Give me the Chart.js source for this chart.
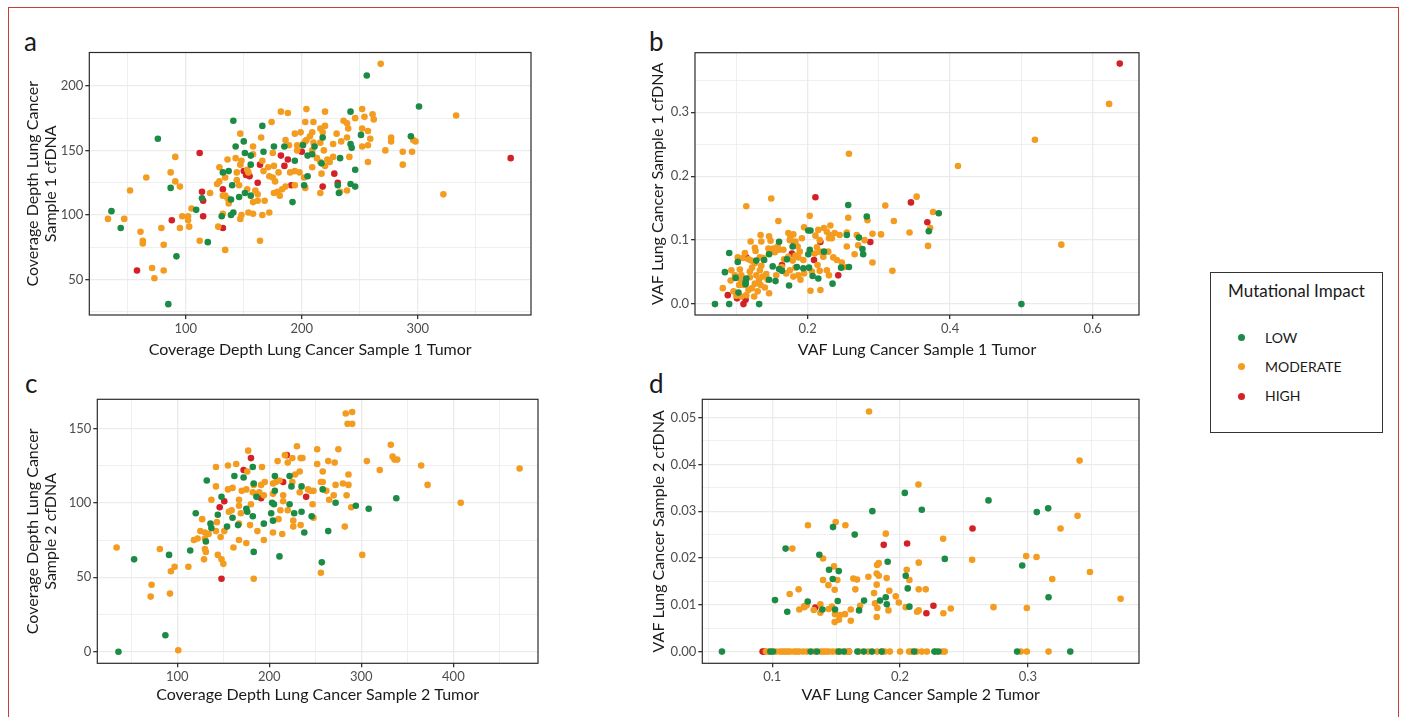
<!DOCTYPE html>
<html>
<head>
<meta charset="utf-8">
<script src="https://cdn.jsdelivr.net/npm/chart.js@4.4.1/dist/chart.umd.min.js"></script>
<style>
  body { margin: 0; background: #fff; width: 1404px; height: 717px; overflow: hidden; position: relative; font-family: Lato, "Open Sans", sans-serif; }
  .frame { position: absolute; left: 8px; top: 7px; width: 1389px; height: 730px; border: 1px solid #d23a3a; }
  canvas { position: absolute; }
  .tag { position: absolute; font-size: 26px; line-height: 1; color: #1a1a1a; }
  #legend { position: absolute; left: 1210px; top: 272px; width: 171px; height: 159px; border: 1px solid #333; }
  #legend .ttl { position: absolute; left: 0; width: 100%; top: 8px; line-height: 20px; text-align: center; font-size: 17px; color: #1a1a1a; }
  #legend .row { position: absolute; left: 0; width: 100%; height: 20px; line-height: 20px; font-size: 14px; color: #1a1a1a; }
  #legend .dot { position: absolute; left: 27px; top: 6.5px; width: 7px; height: 7px; border-radius: 50%; }
  #legend .lab { position: absolute; left: 54px; top: 0; }
</style>
</head>
<body>
<div class="frame"></div>
<div class="tag" style="left:24px;top:28px">a</div>
<div class="tag" style="left:649px;top:28px">b</div>
<div class="tag" style="left:25px;top:370px">c</div>
<div class="tag" style="left:649px;top:370px">d</div>
<canvas id="panelA" width="520" height="330" style="left:20px;top:40px"></canvas>
<canvas id="panelB" width="510" height="330" style="left:640px;top:40px"></canvas>
<canvas id="panelC" width="530" height="330" style="left:20px;top:385px"></canvas>
<canvas id="panelD" width="510" height="330" style="left:640px;top:385px"></canvas>
<div id="legend"><div class="ttl">Mutational Impact</div></div>
<script>
var fontFamily = 'Lato, "Open Sans", sans-serif';
var impactLevels = ['LOW', 'MODERATE', 'HIGH'];
var impactColors = ['#1c8b45', '#f39c1f', '#d42027'];

// panel a - coverage depth, sample 1
var aLow = [[256,208],[301,184],[141,173],[166,169],[242,180],[218,160],[251,162],[294,161],[76,159],[150,157],[143,153],[176,153],[185,153],[201,154],[211,153],[242,155],[243,152],[151,148],[167,149],[156,146],[194,142],[205,146],[209,147],[233,144],[217,140],[246,135],[132,133],[137,134],[205,130],[156,139],[87,121],[140,123],[202,123],[231,123],[242,124],[246,122],[232,117],[151,117],[156,115],[114,113],[139,112],[146,114],[192,110],[36,103],[44,90],[109,104],[131,99],[139,100],[141,102],[119,79],[92,68],[85,31]];
var aModerate = [[268,217],[204,182],[182,180],[188,179],[220,180],[252,182],[333,177],[254,176],[261,178],[262,174],[246,175],[236,173],[239,171],[240,167],[203,172],[210,172],[220,169],[216,167],[218,164],[174,172],[252,167],[257,165],[147,163],[165,160],[194,163],[199,164],[209,164],[207,161],[204,158],[203,157],[230,163],[234,157],[239,160],[227,155],[259,159],[277,160],[277,157],[296,158],[298,157],[186,158],[189,154],[196,154],[201,155],[210,156],[216,156],[158,153],[175,148],[252,153],[257,154],[272,150],[287,149],[295,149],[219,150],[209,150],[196,150],[91,145],[158,147],[143,144],[136,143],[148,142],[166,142],[213,144],[222,143],[227,145],[224,141],[220,138],[216,141],[241,145],[257,141],[287,139],[171,137],[176,138],[167,134],[129,137],[147,139],[153,135],[144,133],[154,133],[87,133],[66,129],[180,133],[190,133],[194,134],[198,133],[172,130],[175,129],[177,126],[209,137],[217,132],[202,129],[91,126],[95,122],[127,124],[129,126],[134,129],[144,127],[146,123],[153,120],[160,119],[162,116],[179,118],[183,120],[186,122],[181,115],[176,117],[194,123],[203,121],[216,117],[233,118],[239,119],[322,116],[52,119],[121,117],[134,115],[136,113],[137,109],[158,110],[162,111],[168,111],[132,115],[33,97],[47,97],[105,105],[97,99],[102,99],[102,96],[103,91],[95,90],[79,90],[132,101],[148,100],[147,97],[154,102],[158,101],[166,100],[172,102],[128,91],[61,87],[63,80],[63,78],[81,77],[112,80],[164,80],[134,73],[71,59],[81,57],[73,51]];
var aHigh = [[112,148],[200,149],[182,146],[188,143],[164,139],[185,138],[150,134],[155,130],[152,131],[228,132],[162,125],[191,123],[218,122],[231,125],[114,118],[115,111],[132,120],[88,96],[115,99],[132,90],[58,57],[380,144]];
var aXGrid = [50,100,150,200,250,300,350];
var aXLabels = [100,200,300];
var aYGrid = [25,50,75,100,125,150,175,200];
var aYLabels = [50,100,150,200];

// panel b - VAF, sample 1
var bLow = [[0.500,0],[0.257,0.155],[0.384,0.142],[0.370,0.114],[0.283,0.137],[0.160,0.0975],[0.090,0.080],[0.102,0.066],[0.084,0.050],[0.099,0.041],[0.103,0.018],[0.113,0.031],[0.114,0.040],[0.070,0],[0.090,0],[0.132,0],[0.113,0.034],[0.128,0.068],[0.139,0.069],[0.146,0.078],[0.146,0.038],[0.155,0.036],[0.151,0.059],[0.160,0.055],[0.171,0.070],[0.164,0.052],[0.174,0.029],[0.179,0.090],[0.185,0.058],[0.194,0.056],[0.202,0.057],[0.201,0.078],[0.203,0.085],[0.201,0.115],[0.204,0.115],[0.223,0.082],[0.207,0.044],[0.215,0.040],[0.235,0.032],[0.247,0.057],[0.258,0.058],[0.255,0.108],[0.272,0.104],[0.277,0.086],[0.278,0.078]];
var bModerate = [[0.623,0.313],[0.519,0.257],[0.258,0.235],[0.411,0.216],[0.556,0.093],[0.353,0.168],[0.309,0.154],[0.149,0.165],[0.114,0.153],[0.376,0.144],[0.372,0.119],[0.369,0.091],[0.343,0.112],[0.321,0.130],[0.303,0.109],[0.291,0.110],[0.291,0.065],[0.319,0.052],[0.284,0.131],[0.203,0.138],[0.159,0.130],[0.257,0.135],[0.195,0.120],[0.232,0.123],[0.215,0.116],[0.223,0.119],[0.227,0.113],[0.231,0.108],[0.234,0.103],[0.211,0.107],[0.217,0.100],[0.173,0.111],[0.180,0.109],[0.176,0.105],[0.175,0.100],[0.183,0.098],[0.192,0.103],[0.134,0.108],[0.120,0.098],[0.135,0.098],[0.146,0.106],[0.148,0.099],[0.158,0.090],[0.152,0.087],[0.154,0.081],[0.145,0.087],[0.146,0.079],[0.138,0.072],[0.112,0.080],[0.126,0.088],[0.127,0.083],[0.117,0.070],[0.102,0.073],[0.109,0.072],[0.093,0.053],[0.098,0.045],[0.092,0.037],[0.081,0.025],[0.105,0.054],[0.107,0.045],[0.106,0.038],[0.110,0.030],[0.104,0.030],[0.119,0.051],[0.122,0.057],[0.119,0.042],[0.126,0.032],[0.122,0.025],[0.132,0.038],[0.128,0.045],[0.133,0.053],[0.126,0.064],[0.121,0.068],[0.133,0.073],[0.135,0.060],[0.142,0.047],[0.144,0.038],[0.146,0.017],[0.140,0.026],[0.137,0.043],[0.134,0.030],[0.117,0.022],[0.114,0.014],[0.160,0.085],[0.166,0.085],[0.167,0.070],[0.173,0.074],[0.179,0.068],[0.183,0.076],[0.164,0.058],[0.156,0.045],[0.170,0.048],[0.175,0.053],[0.180,0.043],[0.187,0.045],[0.183,0.057],[0.190,0.038],[0.195,0.048],[0.186,0.090],[0.189,0.082],[0.187,0.073],[0.194,0.069],[0.210,0.079],[0.213,0.089],[0.217,0.082],[0.222,0.074],[0.229,0.082],[0.236,0.073],[0.241,0.069],[0.248,0.065],[0.252,0.058],[0.214,0.061],[0.206,0.051],[0.217,0.052],[0.227,0.053],[0.230,0.045],[0.204,0.021],[0.218,0.022],[0.230,0.103],[0.238,0.111],[0.245,0.108],[0.255,0.090],[0.255,0.112],[0.266,0.078],[0.271,0.092],[0.280,0.100],[0.269,0.108],[0.096,0.020],[0.100,0.013],[0.107,0.012],[0.125,0.012],[0.130,0.020]];
var bHigh = [[0.638,0.376],[0.345,0.159],[0.211,0.167],[0.368,0.128],[0.288,0.097],[0.218,0.097],[0.114,0.073],[0.088,0.014],[0.101,0.009],[0.110,0.000],[0.113,0.007],[0.178,0.079],[0.181,0.092],[0.164,0.061],[0.209,0.069],[0.243,0.045]];
var bXGrid = [0.1,0.2,0.3,0.4,0.5,0.6];
var bXLabels = [0.2,0.4,0.6];
var bYGrid = [0,0.05,0.1,0.15,0.2,0.25,0.3,0.35];
var bYLabels = [0,0.1,0.2,0.3];

// panel c - coverage depth, sample 2
var cLow = [[36,0],[87,11],[53,62],[91,65],[114,68],[132,115],[120,93],[144,92],[148,104],[136,86],[137,83],[154,84],[160,90],[166,85],[162,118],[172,117],[182,124],[183,113],[175,96],[176,94],[182,91],[186,104],[194,86],[131,74],[183,67],[206,118],[206,108],[203,100],[205,99],[202,93],[204,88],[211,64],[222,99],[222,118],[224,111],[227,93],[235,94],[235,111],[238,80],[246,91],[258,109],[272,100],[264,81],[257,60],[294,98],[308,96],[338,103]];
var cModerate = [[34,70],[72,45],[71,37],[92,39],[81,69],[93,54],[97,57],[101,1],[112,57],[118,75],[122,76],[125,81],[130,80],[134,79],[130,76],[130,69],[131,67],[129,62],[127,89],[137,102],[142,111],[142,124],[143,87],[142,81],[147,77],[144,65],[148,62],[150,59],[151,81],[155,109],[160,110],[155,125],[164,126],[156,94],[159,95],[167,102],[167,98],[169,93],[167,86],[161,70],[167,75],[175,73],[170,108],[175,109],[176,121],[177,135],[180,99],[179,85],[182,107],[189,107],[194,105],[183,112],[191,112],[195,114],[192,124],[187,81],[194,75],[183,49],[204,113],[207,114],[211,115],[209,128],[204,106],[215,105],[215,101],[212,95],[210,89],[204,80],[214,79],[217,132],[220,127],[225,130],[225,114],[230,138],[233,121],[233,107],[234,130],[236,130],[226,88],[226,84],[234,85],[242,109],[245,108],[248,108],[247,99],[248,90],[252,136],[252,126],[258,121],[258,114],[256,114],[262,108],[264,128],[271,127],[275,136],[270,105],[265,102],[272,112],[280,113],[286,119],[286,112],[284,105],[289,97],[282,84],[301,65],[256,53],[283,160],[290,161],[285,153],[290,153],[306,128],[320,122],[332,139],[334,131],[336,129],[339,129],[365,125],[372,112],[408,100],[472,123],[220,95],[228,119]];
var cHigh = [[180,130],[172,122],[219,132],[215,114],[191,103],[151,101],[146,97],[148,49],[240,104]];
var cXGrid = [50,100,150,200,250,300,350,400,450];
var cXLabels = [100,200,300,400];
var cYGrid = [0,25,50,75,100,125,150];
var cYLabels = [0,50,100,150];

// panel d - VAF, sample 2
var dLow = [[0.2037,0.0339],[0.1783,0.0300],[0.2170,0.0303],[0.2692,0.0323],[0.3070,0.0298],[0.3159,0.0306],[0.1475,0.0266],[0.1645,0.0250],[0.1104,0.0220],[0.1368,0.0207],[0.1444,0.0175],[0.1520,0.0172],[0.1473,0.0155],[0.1903,0.0192],[0.2350,0.0198],[0.2044,0.0162],[0.2060,0.0135],[0.2956,0.0184],[0.3162,0.0116],[0.1021,0.0110],[0.1117,0.0085],[0.1277,0.0107],[0.1392,0.0090],[0.1491,0.0090],[0.1512,0.0108],[0.1718,0.0109],[0.1679,0.0088],[0.1843,0.0109],[0.1888,0.0116],[0.1896,0.0101],[0.2073,0.0096],[0.0606,0],[0.0985,0],[0.1005,0],[0.1300,0],[0.1350,0],[0.1520,0],[0.1560,0],[0.1666,0],[0.1716,0],[0.1780,0],[0.1856,0],[0.2110,0],[0.2269,0],[0.2300,0],[0.2916,0],[0.3332,0]];
var dModerate = [[0.1757,0.0513],[0.3405,0.0408],[0.2144,0.0357],[0.3389,0.0290],[0.3256,0.0263],[0.1279,0.0270],[0.1496,0.0277],[0.1572,0.0270],[0.1888,0.0252],[0.2337,0.0241],[0.1157,0.0220],[0.1397,0.0199],[0.1483,0.0182],[0.2146,0.0190],[0.2564,0.0196],[0.2987,0.0204],[0.3068,0.0202],[0.3486,0.0170],[0.3191,0.0155],[0.3726,0.0113],[0.2731,0.0095],[0.2992,0.0093],[0.1397,0.0153],[0.1509,0.0153],[0.1439,0.0142],[0.1634,0.0156],[0.1663,0.0154],[0.1650,0.0133],[0.1488,0.0132],[0.1206,0.0133],[0.1136,0.0123],[0.1752,0.0160],[0.1820,0.0185],[0.1833,0.0189],[0.1817,0.0167],[0.1833,0.0162],[0.1817,0.0143],[0.1895,0.0157],[0.1796,0.0125],[0.1916,0.0130],[0.2052,0.0175],[0.2073,0.0153],[0.2146,0.0133],[0.2201,0.0133],[0.1966,0.0118],[0.1990,0.0105],[0.2044,0.0095],[0.2133,0.0085],[0.2146,0.0088],[0.2339,0.0082],[0.2397,0.0092],[0.1822,0.0093],[0.1817,0.0074],[0.1909,0.0088],[0.1211,0.0090],[0.1248,0.0095],[0.1269,0.0099],[0.1324,0.0089],[0.1376,0.0101],[0.1376,0.0083],[0.1441,0.0091],[0.1467,0.0096],[0.1491,0.0080],[0.1530,0.0078],[0.1569,0.0080],[0.1488,0.0063],[0.1522,0.0068],[0.1614,0.0090],[0.1614,0.0066],[0.1687,0.0098],[0.1804,0.0103],[0.095,0],[0.097,0],[0.103,0],[0.106,0],[0.108,0],[0.110,0],[0.112,0],[0.114,0],[0.117,0],[0.119,0],[0.121,0],[0.124,0],[0.127,0],[0.133,0],[0.138,0],[0.140,0],[0.142,0],[0.144,0],[0.147,0],[0.150,0],[0.153,0],[0.158,0],[0.160,0],[0.168,0],[0.175,0],[0.182,0],[0.186,0],[0.188,0],[0.192,0],[0.200,0],[0.207,0],[0.209,0],[0.213,0],[0.217,0],[0.221,0],[0.228,0],[0.233,0],[0.235,0],[0.2945,0],[0.2992,0],[0.3162,0]];
var dHigh = [[0.2567,0.0263],[0.1872,0.0228],[0.2055,0.0231],[0.2261,0.0098],[0.2206,0.0082],[0.1337,0.0094],[0.1251,0.0096],[0.0924,0],[0.0935,0],[0.1600,0]];
var dXGrid = [0.05,0.1,0.15,0.2,0.25,0.3,0.35];
var dXLabels = [0.1,0.2,0.3];
var dYGrid = [0,0.005,0.01,0.015,0.02,0.025,0.03,0.035,0.04,0.045,0.05];
var dYLabels = [0,0.01,0.02,0.03,0.04,0.05];

// black frame round the plotting area
var panelBox = {
  id: 'panelBox',
  afterDraw: function(chart) {
    var a = chart.chartArea, ctx = chart.ctx;
    ctx.save();
    ctx.strokeStyle = '#2b2b2b';
    ctx.lineWidth = 1.2;
    ctx.strokeRect(a.left, a.top, a.right - a.left, a.bottom - a.top);
    ctx.restore();
  }
};

function axis(min, max, grid, labels, digits, title, titlePad, size, isX) {
  return {
    type: 'linear',
    min: min,
    max: max,
    afterBuildTicks: function(s) { s.ticks = grid.map(function(v) { return {value: v}; }); },
    afterFit: function(s) { if (isX) s.height = size; else s.width = size; },
    border: {display: false},
    grid: {
      color: '#ebebeb',
      lineWidth: function(c) { return c.tick && labels.indexOf(c.tick.value) >= 0 ? 1.3 : 0.8; },
      tickLength: 4,
      tickColor: function(c) { return c.tick && labels.indexOf(c.tick.value) >= 0 ? '#333' : 'rgba(0,0,0,0)'; }
    },
    ticks: {
      autoSkip: false,
      maxRotation: 0,
      padding: 2,
      color: '#4d4d4d',
      font: {family: fontFamily, size: 13},
      callback: function(v) { return labels.indexOf(v) >= 0 ? v.toFixed(digits) : ''; }
    },
    title: {
      display: true,
      text: title,
      color: '#1a1a1a',
      font: {family: fontFamily, size: 16, lineHeight: 1.12},
      padding: titlePad
    }
  };
}

function drawPanel(id, series, xAxis, yAxis, pad) {
  var datasets = series.map(function(pts, i) {
    return {
      label: impactLevels[i],
      data: pts.map(function(p) { return {x: p[0], y: p[1]}; }),
      backgroundColor: impactColors[i],
      borderWidth: 0,
      pointRadius: 3.3,
      pointHoverRadius: 3.3
    };
  });
  new Chart(document.getElementById(id).getContext('2d'), {
    type: 'scatter',
    data: {datasets: datasets},
    options: {
      responsive: false,
      animation: false,
      devicePixelRatio: 1,
      layout: {padding: {top: pad.top, right: pad.right, left: 0, bottom: 0}},
      plugins: {legend: {display: false}, tooltip: {enabled: false}},
      scales: {x: xAxis, y: yAxis}
    },
    plugins: [panelBox]
  });
}

drawPanel('panelA', [aLow, aModerate, aHigh],
  axis(16.9, 397.5, aXGrid, aXLabels, 0, 'Coverage Depth Lung Cancer Sample 1 Tumor', {top: 0, bottom: 11}, 55, true),
  axis(22.6, 225.8, aYGrid, aYLabels, 0, ['Coverage Depth Lung Cancer', 'Sample 1 cfDNA'], {top: 4, bottom: 0}, 69.3, false),
  {top: 12.5, right: 9});

drawPanel('panelB', [bLow, bModerate, bHigh],
  axis(0.042, 0.665, bXGrid, bXLabels, 1, 'VAF Lung Cancer Sample 1 Tumor', {top: 0, bottom: 11}, 55, true),
  axis(-0.017, 0.393, bYGrid, bYLabels, 1, 'VAF Lung Cancer Sample 1 cfDNA', {top: 9, bottom: 0}, 55, false),
  {top: 12.7, right: 11});

drawPanel('panelC', [cLow, cModerate, cHigh],
  axis(13, 492, cXGrid, cXLabels, 0, 'Coverage Depth Lung Cancer Sample 2 Tumor', {top: 0, bottom: 11}, 51.7, true),
  axis(-7.8, 169.5, cYGrid, cYLabels, 0, ['Coverage Depth Lung Cancer', 'Sample 2 cfDNA'], {top: 4, bottom: 0}, 77.3, false),
  {top: 14.3, right: 12});

drawPanel('panelD', [dLow, dModerate, dHigh],
  axis(0.0452, 0.387, dXGrid, dXLabels, 1, 'VAF Lung Cancer Sample 2 Tumor', {top: 0, bottom: 11}, 51.7, true),
  axis(-0.0025, 0.0539, dYGrid, dYLabels, 2, 'VAF Lung Cancer Sample 2 cfDNA', {top: 9.7, bottom: 0}, 62.3, false),
  {top: 14.3, right: 11});

// legend
var legend = document.getElementById('legend');
impactLevels.forEach(function(name, i) {
  var row = document.createElement('div');
  row.className = 'row';
  row.style.top = (54.7 + i * 29.2) + 'px';
  row.innerHTML = '<span class="dot" style="background:' + impactColors[i] + '"></span><span class="lab">' + name + '</span>';
  legend.appendChild(row);
});
</script>
</body>
</html>
